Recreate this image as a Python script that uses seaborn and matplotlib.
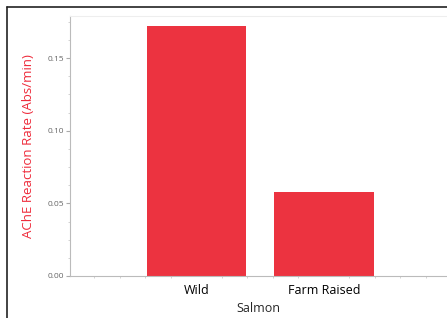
import numpy as np
import pandas as pd
import seaborn as sns
import matplotlib.pyplot as plt
from matplotlib.lines import Line2D
from matplotlib.ticker import MultipleLocator

# data
salmon = ['Wild', 'Farm Raised']
rate = [0.172, 0.058]

df = pd.DataFrame({'Salmon': salmon, 'rate': rate})

sns.set_style('white')
plt.rcParams['font.family'] = ['Open Sans', 'DejaVu Sans']

fig = plt.figure(figsize=(4.47, 3.18), dpi=100)
ax = fig.add_axes([70 / 447, 1 - 276 / 318, 377 / 447, 260 / 318])

sns.barplot(data=df, x='Salmon', y='rate', color='#EC3340', saturation=1,
            width=0.78, linewidth=0, ax=ax)

ax.set_xlim(-0.99, 1.965)
ax.set_ylim(0, 0.179)
ax.set_yticks([0.00, 0.05, 0.10, 0.15])
ax.set_yticklabels(['0.00', '0.05', '0.10', '0.15'])
ax.yaxis.set_minor_locator(MultipleLocator(0.0125))
ax.xaxis.set_minor_locator(MultipleLocator(0.2))
ax.tick_params(axis='y', which='major', labelsize=6, labelcolor='#666666',
               length=3, color='#aaaaaa', left=True, pad=1)
ax.tick_params(axis='y', which='minor', length=1.5, color='#cccccc', left=True)
ax.tick_params(axis='x', which='major', labelsize=9, labelcolor='black',
               length=0, pad=6)
ax.tick_params(axis='x', which='minor', length=1.5, color='#cccccc', bottom=True)

for side in ['left', 'bottom', 'top']:
    ax.spines[side].set_color('#bbbbbb')
    ax.spines[side].set_linewidth(0.8)
ax.spines['top'].set_color('#eeeeee')
ax.spines['right'].set_visible(False)

ax.set_xlabel('Salmon', fontsize=9, labelpad=3)
ax.set_ylabel('AChE Reaction Rate (Abs/min)', fontsize=9.5, color='#EE2A3A',
              labelpad=9)

# page frame lines
fig.add_artist(Line2D([7 / 447, 7 / 447], [0, 1 - 7 / 318], color='#222222', lw=1.2))
fig.add_artist(Line2D([7 / 447, 1], [1 - 7 / 318, 1 - 7 / 318], color='#222222', lw=1.2))

fig.savefig('out.png', dpi=100)
